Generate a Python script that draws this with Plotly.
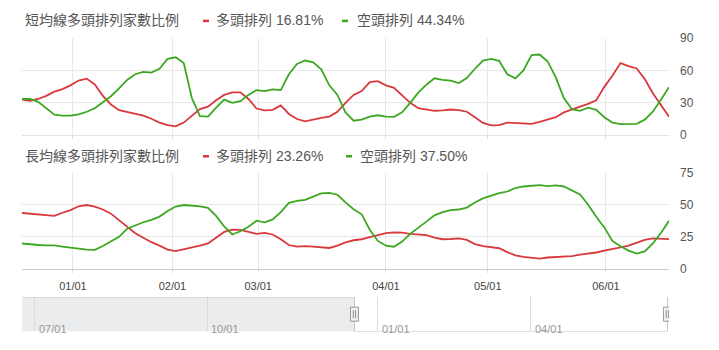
import plotly.graph_objects as go

# ---------------- data ----------------
# x index of each sample (evenly spaced trading-day samples in the visible window)
idx = list(range(81))

short_bull = [32.7, 31.5, 33.3, 36.2, 40.1, 42.5, 46.0, 50.5, 52.3, 46.9,
              36.2, 28.2, 22.9, 21.4, 19.9, 17.8, 14.9, 11.3, 8.9, 7.7,
              11.3, 17.8, 23.8, 26.1, 32.1, 37.1, 39.5, 39.5, 33.3, 24.4,
              22.6, 23.2, 27.3, 19.3, 14.6, 12.5, 14.3, 15.7, 16.9, 21.4,
              29.7, 37.1, 40.7, 49.0, 49.9, 46.0, 43.7, 37.1, 29.7, 24.7,
              23.8, 22.3, 22.6, 23.5, 22.9, 21.4, 16.3, 11.0, 8.6, 8.9,
              11.3, 11.0, 10.7, 10.1, 11.9, 14.3, 16.3, 20.8, 23.8, 26.1,
              28.8, 32.1, 44.6, 54.9, 66.8, 63.9, 61.8, 52.0, 38.6, 28.2, 16.81]

short_bear = [33.3, 33.3, 30.6, 24.9, 18.7, 17.8, 17.8, 19.0, 21.4, 24.7,
              30.3, 35.9, 43.1, 51.1, 56.4, 58.5, 57.9, 61.5, 70.7, 72.2,
              66.8, 34.2, 17.2, 16.9, 25.2, 32.7, 29.7, 31.2, 37.1, 41.6,
              40.7, 42.2, 41.6, 56.4, 65.9, 69.2, 67.4, 60.9, 46.0, 37.1,
              20.8, 13.0, 14.0, 16.9, 18.1, 16.9, 16.6, 20.8, 29.7, 39.2,
              46.6, 52.6, 51.1, 50.5, 48.1, 52.9, 61.5, 69.2, 70.7, 68.9,
              56.4, 52.6, 60.0, 74.3, 74.8, 68.3, 53.5, 34.2, 23.8, 22.3,
              25.2, 23.2, 16.3, 11.3, 9.8, 10.1, 10.1, 14.0, 21.4, 32.7, 44.34]

long_bull = [43.6, 43.1, 42.3, 42.3, 41.3, 43.8, 45.8, 48.8, 49.8, 48.6,
             46.3, 43.1, 38.1, 32.4, 27.9, 24.4, 20.9, 18.2, 15.2, 13.9,
             15.2, 16.9, 18.2, 19.9, 24.4, 28.9, 30.6, 30.4, 28.9, 27.4,
             28.1, 26.9, 23.2, 18.7, 17.4, 17.9, 17.4, 16.7, 16.4, 18.2,
             20.7, 22.4, 23.2, 24.9, 26.6, 27.9, 28.6, 28.4, 27.4, 27.1,
             26.4, 24.4, 23.2, 23.4, 23.9, 22.7, 19.4, 17.9, 16.9, 16.2,
             13.2, 10.7, 9.5, 8.7, 8.2, 9.0, 9.2, 9.5, 10.0, 11.2,
             12.0, 12.9, 14.4, 15.4, 16.9, 18.2, 20.4, 22.7, 23.9, 23.7, 23.26]

long_bear = [19.9, 19.2, 18.7, 18.4, 18.4, 17.4, 16.9, 15.9, 15.2, 14.9,
             17.9, 21.2, 25.1, 31.4, 34.1, 36.4, 38.3, 40.8, 45.1, 48.6,
             49.8, 49.3, 48.8, 47.6, 41.3, 33.1, 26.9, 29.4, 32.9, 37.6,
             36.4, 38.6, 44.3, 51.5, 53.0, 53.8, 56.3, 58.8, 59.3, 57.8,
             51.8, 46.5, 42.6, 30.6, 21.9, 18.2, 17.4, 21.4, 27.4, 31.9,
             36.9, 41.8, 44.3, 45.8, 46.3, 47.8, 51.8, 55.0, 57.3, 59.0,
             60.3, 63.0, 64.2, 64.7, 65.2, 64.5, 65.0, 64.2, 61.0, 58.0,
             50.0, 40.6, 32.4, 21.9, 17.7, 14.4, 12.0, 13.7, 19.9, 28.1, 37.5]

titles = ["短均線多頭排列家數比例", "長均線多頭排列家數比例"]
series_names = ["多頭排列", "空頭排列"]

month_tick_pos = [6.3, 18.6, 29.2, 45.0, 57.6, 72.2]
month_tick_labels = ["01/01", "02/01", "03/01", "04/01", "05/01", "06/01"]

nav_range = [-85, 80.4]
view_range = [0, 80]
nav_tick_pos = [-81.8, -37.6, 6.0, 45.0]
nav_tick_labels = ["07/01", "10/01", "01/01", "04/01"]

# ---------------- style ----------------
W, H = 719, 350
RED = "#d9393c"
GREEN = "#3ca821"
GRID = "#e8e8e8"
FONT = "Liberation Sans, Noto Sans CJK TC, sans-serif"


def px(x):
    return x / W


def py(y):
    return 1 - y / H


fig = go.Figure()
for ys, col, xa, ya in [(short_bull, RED, "x", "y"), (short_bear, GREEN, "x", "y"),
                        (long_bull, RED, "x2", "y2"), (long_bear, GREEN, "x2", "y2")]:
    fig.add_trace(go.Scatter(x=idx, y=ys, mode="lines", line=dict(color=col, width=1.8),
                             xaxis=xa, yaxis=ya, showlegend=False, hoverinfo="skip"))

xcommon = dict(domain=[px(22), px(669)], range=view_range, tickmode="array",
               tickvals=month_tick_pos, ticktext=month_tick_labels,
               showgrid=True, gridcolor=GRID, gridwidth=1, zeroline=False,
               ticks="outside", ticklen=3, tickcolor="#dddddd", showline=True)
ycommon = dict(side="right", showgrid=True, gridcolor=GRID, zeroline=False,
               tickfont=dict(size=12, color="#555", family=FONT), ticks="",
               ticklabelstandoff=10, showline=False)

layout = dict(
    width=W, height=H, autosize=False,
    margin=dict(l=0, r=0, t=0, b=0, pad=0),
    paper_bgcolor="white", plot_bgcolor="white",
    font=dict(family=FONT),
    xaxis=dict(**xcommon, anchor="y", showticklabels=False, linecolor="#e3e3e3"),
    yaxis=dict(**ycommon, domain=[py(133), py(32.5)], range=[0, 90], dtick=30, anchor="x"),
    xaxis2=dict(**xcommon, anchor="y2", showticklabels=True, linecolor="#cccccc",
                tickfont=dict(size=11, color="#444", family=FONT), ticklabelstandoff=4),
    yaxis2=dict(**ycommon, domain=[py(273), py(172.5)], range=[0, 75], dtick=25, anchor="x2"),
    xaxis3=dict(domain=[px(22), px(669)], range=nav_range, anchor="y3", tickmode="array",
                tickvals=nav_tick_pos, showticklabels=False,
                showgrid=True, gridcolor="#dcdcdc", zeroline=False, showline=False, ticks=""),
    yaxis3=dict(domain=[py(338), py(302)], range=[0, 1], visible=False, anchor="x3"),
)

shapes = []
# navigator: unselected shaded area
shapes.append(dict(type="rect", xref="x3", yref="y3", x0=nav_range[0], x1=view_range[0],
                   y0=0, y1=1, fillcolor="#eaeced", line=dict(width=0), layer="below"))
# navigator outline
shapes.append(dict(type="path", xref="x3", yref="y3",
                   path=f"M {nav_range[0]},1 L {view_range[0]},1 L {view_range[0]},0 "
                        f"L {view_range[1]},0 L {view_range[1]},1",
                   line=dict(color="#c4c4c4", width=1)))
# handles
for hx in view_range:
    shapes.append(dict(type="rect", xref="x3", yref="y3", xsizemode="pixel", ysizemode="pixel",
                       xanchor=hx, yanchor=0.5, x0=-4, x1=4, y0=-7, y1=7,
                       fillcolor="#f2f2f2", line=dict(color="#999999", width=1)))
    for off in (-1.2, 1.2):
        shapes.append(dict(type="line", xref="x3", yref="y3", xsizemode="pixel", ysizemode="pixel",
                           xanchor=hx, yanchor=0.5, x0=off, x1=off, y0=-4, y1=4,
                           line=dict(color="#888888", width=1)))

annotations = []
# navigator date labels
for pos, lab in zip(nav_tick_pos, nav_tick_labels):
    annotations.append(dict(xref="x3", yref="y3", x=pos, y=0.06, xanchor="left", yanchor="middle",
                            xshift=2, text=lab, showarrow=False,
                            font=dict(size=11, color="#999", family=FONT)))

legend_rows = [
    (14, titles[0], [(RED, 203, 214, f"{series_names[0]} {short_bull[-1]:.2f}%"),
                     (GREEN, 342, 355, f"{series_names[1]} {short_bear[-1]:.2f}%")]),
    (155, titles[1], [(RED, 203, 214, f"{series_names[0]} {long_bull[-1]:.2f}%"),
                      (GREEN, 346, 358, f"{series_names[1]} {long_bear[-1]:.2f}%")]),
]
for yy, title, items in legend_rows:
    annotations.append(dict(xref="paper", yref="paper", x=px(23), y=py(yy), xanchor="left",
                            yanchor="middle", text=title, showarrow=False,
                            font=dict(size=14, color="#555", family=FONT)))
    for col, dx, tx, txt in items:
        shapes.append(dict(type="line", xref="paper", yref="paper", x0=px(dx), x1=px(dx + 6),
                           y0=py(yy + 0.5), y1=py(yy + 0.5), line=dict(color=col, width=2.5)))
        annotations.append(dict(xref="paper", yref="paper", x=px(tx), y=py(yy), xanchor="left",
                                yanchor="middle", text=txt, showarrow=False,
                                font=dict(size=14, color="#555", family=FONT)))

layout["shapes"] = shapes
layout["annotations"] = annotations
fig.update_layout(**layout)
fig.write_html("out.html")
